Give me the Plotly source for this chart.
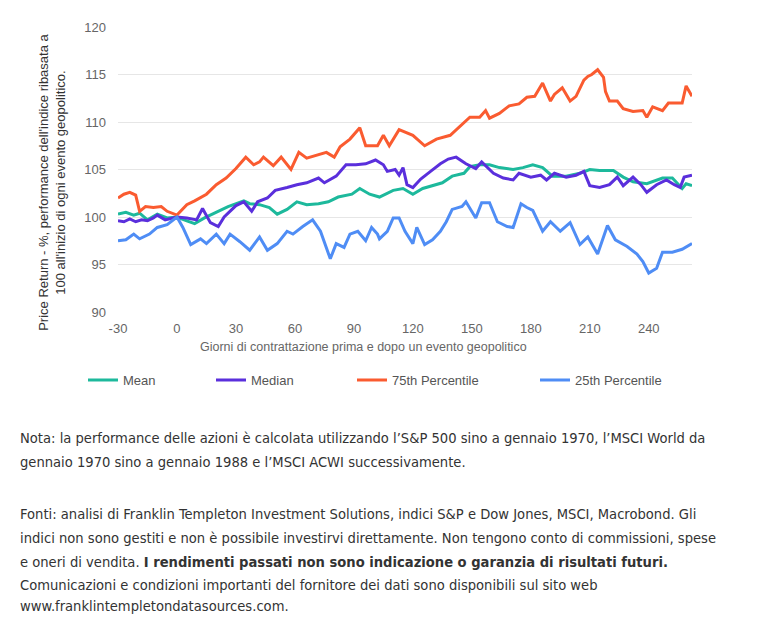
import plotly.graph_objects as go

# ---------------- data ----------------
mean_days = [-30, -26, -22, -19, -15, -10, -5, 0, 5, 9, 14, 19, 26, 34, 37, 42, 47, 51, 56, 61, 66, 72,
             77, 82, 89, 93, 98, 103, 110, 115, 120, 125, 130, 135, 140, 146, 149, 154, 159, 164, 171,
             176, 181, 186, 191, 198, 205, 210, 215, 222, 227, 232, 239, 247, 252, 257, 259, 262]
mean_vals = [100.3, 100.5, 100.2, 100.4, 99.7, 100.3, 99.9, 100.0, 99.6, 99.3, 99.9, 100.4, 101.1, 101.7,
             101.4, 101.3, 101.0, 100.3, 100.8, 101.6, 101.3, 101.4, 101.6, 102.1, 102.4, 103.0, 102.4,
             102.1, 102.8, 103.0, 102.4, 103.0, 103.3, 103.6, 104.3, 104.6, 105.3, 105.5, 105.5, 105.2,
             105.0, 105.2, 105.5, 105.2, 104.3, 104.3, 104.6, 105.0, 104.9, 104.9, 104.2, 103.7, 103.5,
             104.1, 104.1, 103.0, 103.5, 103.3]

median_days = [-30, -27, -24, -21, -18, -15, -12, -10, -6, 0, 5, 10, 13, 17, 21, 24, 30, 34, 38, 41, 46,
               50, 56, 61, 66, 72, 75, 81, 86, 91, 96, 101, 105, 107, 111, 113, 115, 117, 120, 124, 129,
               134, 138, 142, 147, 152, 155, 161, 166, 171, 174, 180, 185, 188, 192, 198, 203, 207, 210,
               215, 220, 224, 227, 232, 236, 239, 244, 249, 253, 256, 258, 262]
median_vals = [99.6, 99.5, 99.8, 99.5, 99.7, 99.6, 99.9, 100.2, 99.7, 100.0, 99.9, 99.7, 100.9, 99.4,
               99.0, 100.0, 101.2, 101.6, 100.6, 101.6, 102.0, 102.8, 103.1, 103.4, 103.6, 104.1, 103.6,
               104.3, 105.5, 105.5, 105.6, 106.0, 105.5, 104.8, 105.0, 104.4, 105.2, 103.4, 103.1, 104.0,
               104.8, 105.6, 106.1, 106.3, 105.6, 105.1, 105.8, 104.6, 104.1, 103.9, 104.6, 104.2, 104.4,
               103.9, 104.6, 104.2, 104.4, 104.8, 103.3, 103.1, 103.4, 104.2, 103.3, 104.2, 103.4, 102.6,
               103.4, 103.9, 103.4, 103.1, 104.2, 104.4]

p75_days = [-30, -27, -24, -21, -19, -16, -12, -8, -5, 0, 5, 9, 15, 20, 25, 30, 35, 39, 42, 44, 49, 53,
            58, 62, 66, 71, 76, 80, 83, 88, 93, 96, 102, 105, 108, 113, 120, 126, 132, 139, 144, 149, 154,
            157, 159, 164, 169, 174, 178, 182, 186, 190, 192, 196, 200, 203, 207, 209, 211, 214, 217, 218,
            220, 224, 227, 232, 237, 239, 242, 247, 250, 254, 257, 259, 262]
p75_vals = [102.0, 102.4, 102.6, 102.3, 100.6, 101.1, 101.0, 101.1, 100.6, 100.2, 101.3, 101.7, 102.4,
            103.4, 104.1, 105.1, 106.3, 105.5, 105.8, 106.3, 105.4, 106.3, 105.0, 106.8, 106.2, 106.5,
            106.8, 106.3, 107.4, 108.2, 109.4, 107.5, 107.5, 108.6, 107.5, 109.2, 108.6, 107.5, 108.2,
            108.6, 109.6, 110.5, 110.5, 111.2, 110.4, 110.9, 111.7, 111.9, 112.6, 112.7, 114.1, 112.2,
            112.9, 113.6, 112.2, 112.7, 114.4, 114.8, 115.0, 115.5, 114.7, 113.2, 112.2, 112.2, 111.4,
            111.1, 111.2, 110.5, 111.6, 111.2, 112.0, 112.0, 112.0, 113.8, 112.7]

p25_days = [-30, -26, -22, -19, -14, -10, -5, 0, 3, 7, 12, 15, 20, 24, 27, 32, 37, 42, 46, 51, 56, 59,
            64, 69, 73, 76, 78, 81, 85, 88, 92, 96, 99, 102, 103, 107, 110, 113, 116, 120, 122, 126, 130,
            134, 137, 140, 145, 147, 152, 155, 159, 163, 168, 171, 175, 178, 181, 186, 190, 195, 200, 205,
            209, 214, 219, 223, 229, 234, 237, 240, 244, 247, 252, 257, 262]
p25_vals = [97.5, 97.6, 98.2, 97.7, 98.2, 98.9, 99.2, 100.0, 98.9, 97.1, 97.7, 97.2, 98.2, 97.2, 98.2,
            97.4, 96.5, 97.9, 96.5, 97.2, 98.5, 98.2, 99.0, 99.7, 98.5, 96.8, 95.6, 97.2, 96.8, 98.2, 98.5,
            97.5, 98.9, 98.2, 97.7, 98.5, 99.9, 99.9, 98.5, 97.2, 98.9, 97.1, 97.6, 98.5, 99.5, 100.8,
            101.1, 101.6, 99.9, 101.5, 101.5, 99.5, 99.0, 98.9, 101.4, 101.0, 100.7, 98.5, 99.5, 98.5,
            99.4, 97.1, 97.9, 96.1, 99.1, 97.6, 96.9, 96.1, 95.3, 94.1, 94.6, 96.3, 96.3, 96.6, 97.2]

series_names = ["Mean", "Median", "75th Percentile", "25th Percentile"]
series_colors = ["#1db99c", "#5a2fdc", "#fa5b30", "#4f8df5"]

x_ticks = [-30, 0, 30, 60, 90, 120, 150, 180, 210, 240]
y_ticks = [90, 95, 100, 105, 110, 115, 120]

y_title = "Price Return - %, performance dell'indice ribasata a<br>100 all'inizio di ogni evento geopolitico."
x_title = "Giorni di contrattazione prima e dopo un evento geopolitico"

notes = [
    "Nota: la performance delle azioni è calcolata utilizzando l’S&P 500 sino a gennaio 1970, l’MSCI World da",
    "gennaio 1970 sino a gennaio 1988 e l’MSCI ACWI successivamente.",
    "Fonti: analisi di Franklin Templeton Investment Solutions, indici S&P e Dow Jones, MSCI, Macrobond. Gli",
    "indici non sono gestiti e non è possibile investirvi direttamente. Non tengono conto di commissioni, spese",
    "e oneri di vendita. <b>I rendimenti passati non sono indicazione o garanzia di risultati futuri.</b>",
    "Comunicazioni e condizioni importanti del fornitore dei dati sono disponibili sul sito web",
    "www.franklintempletondatasources.com.",
]

# ---------------- layout geometry (page pixels; page body has an 8px margin) ----------------
OFF = 8
W, H = 763 - OFF, 624 - OFF
L, R, T, B = 118 - OFF, 692 - OFF, 23 - OFF, 312 - OFF
pw, ph = R - L, B - T


def px(x):
    return (x - OFF - L) / pw


def py(y):
    return (B - (y - OFF)) / ph


fig = go.Figure()
all_days = [mean_days, median_days, p75_days, p25_days]
all_vals = [mean_vals, median_vals, p75_vals, p25_vals]
legend_ids = ["legend", "legend2", "legend3", "legend4"]
legend_left = [83, 211, 352, 535]

for i in range(4):
    fig.add_trace(go.Scatter(
        x=all_days[i], y=all_vals[i], mode="lines", name=series_names[i],
        line=dict(color=series_colors[i], width=3),
        legend=legend_ids[i],
    ))

leg_font = dict(family="Liberation Sans, Arial, sans-serif", size=13, color="#555555")
legends = {}
for i, lid in enumerate(legend_ids):
    legends[lid] = dict(
        x=px(legend_left[i]), xanchor="left", y=py(381), yanchor="middle",
        orientation="h", font=leg_font, bgcolor="rgba(0,0,0,0)", borderwidth=0,
        itemwidth=30, tracegroupgap=0,
    )

annotations = [
    dict(text=y_title, x=px(52), y=py(181), xref="paper", yref="paper", textangle=-90,
         showarrow=False, xanchor="center", yanchor="middle", align="center",
         font=dict(family="Liberation Sans, Arial, sans-serif", size=13, color="#333333")),
    dict(text=x_title, x=px(363), y=py(347), xref="paper", yref="paper",
         showarrow=False, xanchor="center", yanchor="middle",
         font=dict(family="Liberation Sans, Arial, sans-serif", size=12.5, color="#666666")),
]
note_y = [439, 464, 516, 541, 565, 588, 610]
note_font = dict(family="Liberation Sans Narrow, DejaVu Sans Condensed, Roboto Condensed, Arial Narrow, sans-serif",
                 size=14.6, color="#333333")
for txt, yy in zip(notes, note_y):
    annotations.append(dict(text=txt, x=px(18), y=py(yy), xref="paper", yref="paper",
                            showarrow=False, xanchor="left", yanchor="middle", align="left",
                            font=note_font))

fig.update_layout(
    width=W, height=H,
    margin=dict(l=L, r=W - R, t=T, b=H - B, pad=0),
    paper_bgcolor="white", plot_bgcolor="white",
    showlegend=True,
    annotations=annotations,
    xaxis=dict(range=[-30, 262], tickvals=x_ticks, ticktext=[str(v) for v in x_ticks],
               showgrid=False, zeroline=False, showline=False, ticks="", ticklabelstandoff=7,
               tickfont=dict(family="Liberation Sans, Arial, sans-serif", size=13, color="#666666")),
    yaxis=dict(range=[90, 120], tickvals=y_ticks, showgrid=True, gridcolor="#e6e6e6", gridwidth=1,
               zeroline=False, showline=False, ticks="", ticklabelstandoff=11,
               tickfont=dict(family="Liberation Sans, Arial, sans-serif", size=13, color="#666666")),
    **legends,
)

fig.write_html("out.html")
